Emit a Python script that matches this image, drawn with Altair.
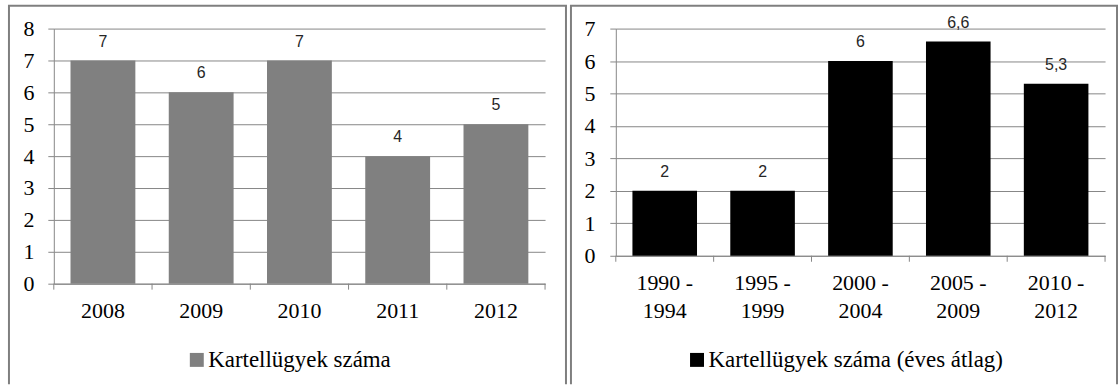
import altair as alt
import pandas as pd

# ---- data ----
years = ["2008", "2009", "2010", "2011", "2012"]
counts = [7, 6, 7, 4, 5]
periods = ["1990 - 1994", "1995 - 1999", "2000 - 2004", "2005 - 2009", "2010 - 2012"]
averages = [2, 2, 6, 6.6, 5.3]
left_series = "Kartellügyek száma"
right_series = "Kartellügyek száma (éves átlag)"

SERIF = "'Liberation Serif', 'Times New Roman', Times, serif"
SANS = "'Liberation Sans', Arial, sans-serif"
GRID = "#878787"
BORDER = "#7f7f7f"


def fmt(v):
    return f"{v:g}".replace(".", ",")


df1 = pd.DataFrame({"cat": years, "value": counts,
                    "label": [fmt(v) for v in counts], "series": left_series})
df2 = pd.DataFrame({"cat": periods, "value": averages,
                    "label": [fmt(v) for v in averages], "series": right_series})
one = pd.DataFrame({"k": [0]})


def panel(df, color, ymax, width, height, legend_x, right_edge, multiline=False, ylabpad=14):
    xaxis_kw = dict(title=None, labelAngle=0, ticks=False, domainColor=GRID,
                    labelFont=SERIF, labelFontSize=22, labelColor="black",
                    labelPadding=17, grid=False)
    if multiline:
        xaxis_kw.update(labelExpr="[substring(datum.label, 0, 6), substring(datum.label, 7)]",
                        labelLineHeight=28)
    xscale = alt.Scale(paddingInner=0.34, paddingOuter=0.17)
    x = alt.X("cat:N", sort=None, scale=xscale, axis=alt.Axis(**xaxis_kw))
    x_noaxis = alt.X("cat:N", sort=None, scale=xscale, axis=None)
    y = alt.Y("value:Q", scale=alt.Scale(domain=[0, ymax], nice=False),
              axis=alt.Axis(title=None, values=list(range(ymax + 1)), format="d",
                            grid=True, gridColor=GRID, domainColor=GRID,
                            tickColor=GRID, tickSize=6, labelFont=SERIF,
                            labelFontSize=22, labelColor="black",
                            labelPadding=ylabpad, labelOverlap=False))
    bars = alt.Chart(df).mark_bar().encode(
        x=x, y=y,
        color=alt.Color("series:N", scale=alt.Scale(range=[color]),
                        legend=alt.Legend(title=None, orient="none",
                                          legendX=legend_x, legendY=321,
                                          symbolType="square", symbolSize=196,
                                          symbolStrokeWidth=0, labelFont=SERIF,
                                          labelFontSize=23, labelColor="black",
                                          labelOffset=0, labelLimit=500,
                                          padding=0)))
    labels = alt.Chart(df).mark_text(font=SANS, fontSize=16, color="#262626",
                                     baseline="middle", dy=-19).encode(
        x=x_noaxis, y=y, text="label:N")
    ticks = alt.Chart(df).mark_rule(color=GRID).encode(
        x=alt.X("cat:N", sort=None, bandPosition=0,
                scale=alt.Scale(paddingInner=0, paddingOuter=0), axis=None),
        y=alt.value(height), y2=alt.value(height + 6))
    end_tick = alt.Chart(one).mark_rule(color=GRID).encode(
        x=alt.value(width), y=alt.value(height), y2=alt.value(height + 6))
    top = alt.Chart(one).mark_rule(color=BORDER, strokeWidth=2).encode(
        x=alt.value(-46), x2=alt.value(right_edge + 1), y=alt.value(-23))
    lft = alt.Chart(one).mark_rule(color=BORDER, strokeWidth=2).encode(
        x=alt.value(-45), y=alt.value(-23), y2=alt.value(357))
    rgt = alt.Chart(one).mark_rule(color=BORDER, strokeWidth=2).encode(
        x=alt.value(right_edge), y=alt.value(-23), y2=alt.value(357))
    return alt.layer(bars, labels, ticks, end_tick, top, lft, rgt).resolve_scale(
        x="independent").properties(width=width, height=height)


left = panel(df1, "#808080", 8, 493, 256, 132, 514)
right = panel(df2, "#000000", 7, 491, 228, 70, 503, multiline=True, ylabpad=15)

chart = alt.hconcat(left, right, spacing=1).resolve_scale(
    color="independent").resolve_legend(color="independent").configure_view(
    stroke=None).properties(
    padding={"left": 7, "top": 4, "right": 0, "bottom": 0}, background="white")

chart.save("out.html", embed_options={"renderer": "svg", "actions": False})
